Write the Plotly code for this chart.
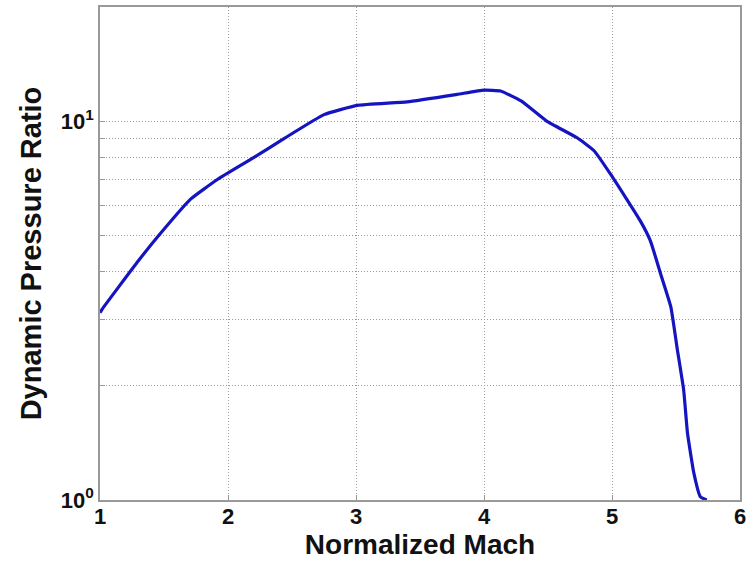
import plotly.graph_objects as go

mach = [1.00, 1.02, 1.30, 1.47, 1.71, 1.92, 2.18, 2.44, 2.75, 3.01, 3.40, 3.79, 4.00, 4.13,
        4.29, 4.49, 4.73, 4.86, 4.99, 5.22, 5.30, 5.38, 5.46, 5.51, 5.56, 5.59, 5.64, 5.69, 5.74]
ratio = [3.12, 3.2, 4.28, 5.04, 6.23, 7.02, 7.93, 9.0, 10.4, 11.0, 11.24, 11.76, 12.07, 12.0,
         11.3, 10.0, 9.02, 8.35, 7.23, 5.46, 4.83, 3.95, 3.23, 2.50, 1.95, 1.50, 1.175, 1.02, 1.0]

x_ticks = [1, 2, 3, 4, 5, 6]
y_ticks = [1, 2, 3, 4, 5, 6, 7, 8, 9, 10, 20]
y_tick_text = ["10<sup>0</sup>", "", "", "", "", "", "", "", "", "10<sup>1</sup>", ""]

fig = go.Figure()
fig.add_trace(go.Scatter(x=mach, y=ratio, mode="lines",
                         line=dict(color="#1414c0", width=3.2, shape="spline", smoothing=0.4)))

font = "Liberation Sans, Arial, sans-serif"
fig.update_layout(
    width=752, height=563,
    margin=dict(l=100, r=12, t=7, b=63),
    paper_bgcolor="white", plot_bgcolor="white",
    showlegend=False,
    font=dict(family=font, color="#111111"),
    xaxis=dict(
        range=[1, 6], tickvals=x_ticks, ticktext=[str(v) for v in x_ticks],
        showgrid=True, gridcolor="#9a9a9a", griddash="1px,2px", gridwidth=1,
        showline=True, linecolor="#999999", linewidth=1.5, mirror=True,
        ticks="inside", ticklen=5, tickcolor="#999999",
        tickfont=dict(size=22, family=font, weight="bold"),
        ticklabelstandoff=-4,
        title=dict(text="<b>Normalized Mach</b>", font=dict(size=28, family=font), standoff=0),
        zeroline=False, automargin=False,
    ),
    yaxis=dict(
        type="log", range=[0, 1.301],
        tickvals=y_ticks, ticktext=y_tick_text,
        showgrid=True, gridcolor="#9a9a9a", griddash="1px,2px", gridwidth=1,
        showline=True, linecolor="#999999", linewidth=1.5, mirror=True,
        ticks="inside", ticklen=5, tickcolor="#999999",
        tickfont=dict(size=22, family=font, weight="bold"),
        title=dict(text="<b>Dynamic Pressure Ratio</b>", font=dict(size=29, family=font), standoff=11),
        zeroline=False, automargin=False,
    ),
)
fig.write_html("out.html", config={"displayModeBar": False},
               post_script="document.body.style.margin='0px';")
